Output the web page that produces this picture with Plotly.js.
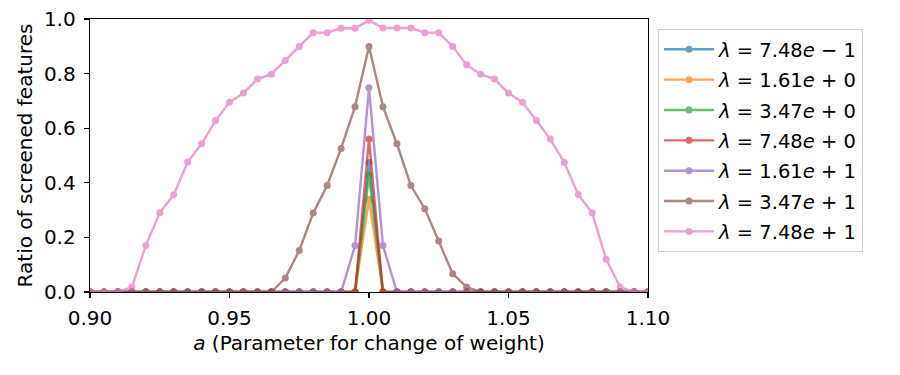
<!DOCTYPE html>
<html>
<head>
<meta charset="utf-8">
<script src="https://cdn.plot.ly/plotly-3.0.1.min.js"></script>
<style>
  html, body { margin: 0; padding: 0; background: #fff; }
  #chart { width: 900px; height: 375px; }
</style>
</head>
<body>
<div id="chart"></div>
<script>
// parameter a, sampled every 0.005 between 0.90 and 1.10
const aValues = [
    0.900, 0.905, 0.910, 0.915, 0.920, 0.925, 0.930, 0.935, 0.940, 0.945,
    0.950, 0.955, 0.960, 0.965, 0.970, 0.975, 0.980, 0.985, 0.990, 0.995,
    1.000, 1.005, 1.010, 1.015, 1.020, 1.025, 1.030, 1.035, 1.040, 1.045,
    1.050, 1.055, 1.060, 1.065, 1.070, 1.075, 1.080, 1.085, 1.090, 1.095,
    1.100
];

const lambdaLabels = ['7.48e-1', '1.61e+0', '3.47e+0', '7.48e+0', '1.61e+1', '3.47e+1', '7.48e+1'];
const lineColors = ['#1f77b4', '#ff7f0e', '#2ca02c', '#d62728', '#9467bd', '#8c564b', '#e377c2'];

// ratio of screened features, one list per lambda
const ratioL0 = [0,0,0,0,0,0,0,0,0,0, 0,0,0,0,0,0,0,0,0,0, 0.474, 0,0,0,0,0,0,0,0,0, 0,0,0,0,0,0,0,0,0,0, 0];
const ratioL1 = [0,0,0,0,0,0,0,0,0,0, 0,0,0,0,0,0,0,0,0,0, 0.340, 0,0,0,0,0,0,0,0,0, 0,0,0,0,0,0,0,0,0,0, 0];
const ratioL2 = [0,0,0,0,0,0,0,0,0,0, 0,0,0,0,0,0,0,0,0,0, 0.427, 0,0,0,0,0,0,0,0,0, 0,0,0,0,0,0,0,0,0,0, 0];
const ratioL3 = [0,0,0,0,0,0,0,0,0,0, 0,0,0,0,0,0,0,0,0,0, 0.560, 0,0,0,0,0,0,0,0,0, 0,0,0,0,0,0,0,0,0,0, 0];
const ratioL4 = [0,0,0,0,0,0,0,0,0,0, 0,0,0,0,0,0,0,0,0,0.170, 0.748, 0.170,0,0,0,0,0,0,0,0, 0,0,0,0,0,0,0,0,0,0, 0];
const ratioL5 = [0,0,0,0,0,0,0,0,0,0, 0,0,0,0,0.051,0.152,0.289,0.390,0.526,0.679,
    0.899, 0.679,0.543,0.390,0.305,0.187,0.067,0.018,0,0, 0,0,0,0,0,0,0,0,0,0, 0];
const ratioL6 = [0,0,0,0.018,0.170,0.290,0.356,0.476,0.543,0.628,
    0.695,0.729,0.780,0.798,0.848,0.899,0.950,0.950,0.966,0.966,
    0.995, 0.967,0.967,0.967,0.950,0.950,0.899,0.832,0.798,0.780,
    0.729,0.695,0.628,0.560,0.474,0.357,0.289,0.120,0.018,0, 0];

const ratios = [ratioL0, ratioL1, ratioL2, ratioL3, ratioL4, ratioL5, ratioL6];

function legendText(label) {
    // "7.48e-1" -> λ = 7.48e − 1
    const m = label.match(/^([\d.]+)e([+-])(\d+)$/);
    const sign = m[2] === '-' ? '\u2212' : '+';
    return '<i>\u03bb</i> = ' + m[1] + '<i>e</i> ' + sign + ' ' + m[3];
}

const data = ratios.map((ys, i) => ({
    type: 'scatter',
    mode: 'lines+markers',
    x: aValues,
    y: ys,
    name: legendText(lambdaLabels[i]),
    legendgroup: 'g' + i,
    opacity: 0.7,
    line: { color: lineColors[i], width: 2.4 },
    marker: { color: lineColors[i], size: 7 },
}));

const tickFont = { family: 'DejaVu Sans', size: 20, color: '#000' };

const layout = {
    width: 900,
    height: 375,
    margin: { l: 90, r: 252, t: 19, b: 83 },
    paper_bgcolor: '#fff',
    plot_bgcolor: '#fff',
    font: tickFont,
    showlegend: true,
    xaxis: {
        range: [0.90, 1.10],
        tickvals: [0.90, 0.95, 1.00, 1.05, 1.10],
        ticktext: ['0.90', '0.95', '1.00', '1.05', '1.10'],
        ticks: 'outside',
        ticklen: 5,
        tickwidth: 1.2,
        tickcolor: '#000',
        ticklabelstandoff: 3,
        showline: true,
        linecolor: '#000',
        linewidth: 1.3,
        mirror: true,
        showgrid: false,
        zeroline: false,
        tickfont: tickFont,
        title: { text: '<i>a</i> (Parameter for change of weight)', font: tickFont, standoff: 6 },
    },
    yaxis: {
        range: [0, 1.0],
        tickvals: [0, 0.2, 0.4, 0.6, 0.8, 1.0],
        ticktext: ['0.0', '0.2', '0.4', '0.6', '0.8', '1.0'],
        ticks: 'outside',
        ticklen: 5,
        tickwidth: 1.2,
        tickcolor: '#000',
        ticklabelstandoff: 4,
        showline: true,
        linecolor: '#000',
        linewidth: 1.3,
        mirror: true,
        showgrid: false,
        zeroline: false,
        tickfont: tickFont,
        title: { text: 'Ratio of screened features', font: tickFont, standoff: 6 },
    },
    legend: {
        x: 1.018,
        xanchor: 'left',
        y: 0.963,
        yanchor: 'top',
        bgcolor: '#fff',
        bordercolor: '#d0d0d0',
        borderwidth: 1,
        itemwidth: 50,
        tracegroupgap: 2,
        font: { family: 'DejaVu Sans', size: 19.5, color: '#000' },
    },
};

Plotly.newPlot('chart', data, layout, { staticPlot: true });
</script>
</body>
</html>
